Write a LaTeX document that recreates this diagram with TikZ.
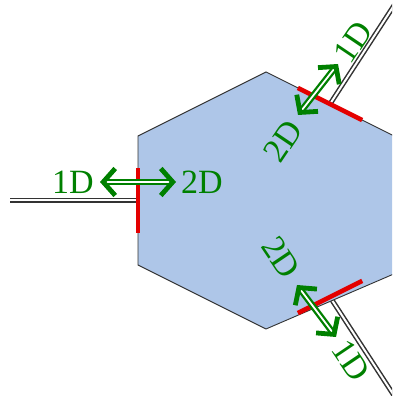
\documentclass[tikz,border=0pt]{standalone}
\usepackage{fontspec}
\setmainfont{Liberation Serif}
\usetikzlibrary{arrows.meta,calc}
\definecolor{cellblue}{RGB}{174,198,232}
\definecolor{portred}{RGB}{228,0,0}
\definecolor{dimgreen}{RGB}{0,128,0}
\begin{document}
\begin{tikzpicture}[x=1pt, y=1pt,
  wire/.style={draw=black!80, line width=1.5pt, double=white, double distance=2pt},
  port/.style={draw=portred, line width=4.5pt},
  barb/.tip={Straight Barb[length=12pt,width=27pt,line width=4.8pt]},
  xfer/.style={draw=dimgreen, line width=2.3pt, double=white, double distance=1.8pt, {barb}-{barb}},
  dimlabel/.style={text=dimgreen, font=\fontsize{34}{34}\selectfont, inner sep=0pt}]
\useasboundingbox (0,0) rectangle (392,396);
\clip (0,0) rectangle (392,396);
% hexagon corners
\coordinate (T) at (266,324);
\coordinate (UL) at (138,260);
\coordinate (LL) at (138,131);
\coordinate (B) at (266,67);
\coordinate (LR) at (410,129);
\coordinate (UR) at (410,252);
% wire ends
\coordinate (wl0) at (10,195.5);
\coordinate (wl1) at ($(UL)!0.5!(LL)$);
\coordinate (wu0) at (330,292);
\coordinate (wu1) at ($(wu0)+(57:140)$);
\coordinate (wd0) at (330,99);
\coordinate (wd1) at ($(wd0)+(-57:140)$);
\draw[wire] (wl0) -- (wl1);
\draw[wire] (wu0) -- (wu1);
\draw[wire] (wd0) -- (wd1);
% cell
\filldraw[fill=cellblue, draw=black!80, line width=0.9pt] (T) -- (UL) -- (LL) -- (B) -- (LR) -- (UR) -- cycle;
% ports
\draw[port] ($(UL)!0.25!(LL)$) -- ($(UL)!0.75!(LL)$);
\draw[port] ($(wu0)!36pt!(T)$) -- ($(wu0)!-36pt!(T)$);
\draw[port] ($(wd0)!36pt!(B)$) -- ($(wd0)!-36pt!(B)$);
% 1D <-> 2D arrows
\coordinate (al0) at (100,214);
\coordinate (al1) at (176,214);
\coordinate (au0) at (298,281);
\coordinate (au1) at (338,332);
\coordinate (ad0) at (297,111);
\coordinate (ad1) at (336,59);
\draw[xfer] (al0) -- (al1);
\draw[xfer] (au0) -- (au1);
\draw[xfer] (ad0) -- (ad1);
% labels
\node[dimlabel] (left1d) at (73,214) {1D};
\node[dimlabel] (left2d) at (202,214) {2D};
\node[dimlabel, rotate=56] (up1d) at (353,354) {1D};
\node[dimlabel, rotate=56] (up2d) at (283,255) {2D};
\node[dimlabel, rotate=-56] (dn2d) at (281,139) {2D};
\node[dimlabel, rotate=-56] (dn1d) at (351,36) {1D};
\end{tikzpicture}
\end{document}
